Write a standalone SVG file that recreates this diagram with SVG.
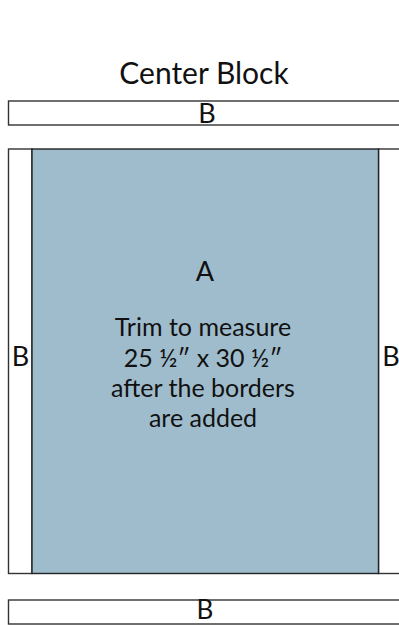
<svg xmlns="http://www.w3.org/2000/svg" width="399" height="625" viewBox="0 0 399 625">
<style>
.lbl{font-family:Lato,"Open Sans","Liberation Sans",sans-serif;font-size:25px;fill:#111;text-anchor:middle}
.big{font-size:27px}
.title{font-size:30px}
.bot{font-size:26px}
.strip{fill:#fff;stroke:#333;stroke-width:1.4}
.field{fill:#9FBCCD;stroke:#222;stroke-width:1.4}
</style>
<rect width="399" height="625" fill="#fff"/>
<text class="lbl title" x="204" y="84">Center Block</text>
<g id="top-B">
<rect class="strip" x="8.5" y="101" width="400" height="24"/>
<text class="lbl big" x="207" y="123">B</text>
</g>
<g id="left-B">
<rect class="strip" x="8.5" y="149" width="23.5" height="424.5"/>
<text class="lbl big" x="20.5" y="366">B</text>
</g>
<g id="right-B">
<rect class="strip" x="378.5" y="149" width="30" height="424.5"/>
<text class="lbl big" x="391" y="366">B</text>
</g>
<g id="A">
<rect class="field" x="32" y="149" width="346.5" height="424.5"/>
<text class="lbl big" x="205" y="281">A</text>
<text class="lbl" x="203" y="336">Trim to measure</text>
<text class="lbl" x="203" y="367">25 ½″ x 30 ½″</text>
<text class="lbl" x="203" y="397">after the borders</text>
<text class="lbl" x="203" y="427">are added</text>
</g>
<g id="bottom-B">
<rect class="strip" x="8.5" y="600" width="400" height="24"/>
<text class="lbl bot" x="205" y="619">B</text>
</g>
<g id="connectors"/>
</svg>
